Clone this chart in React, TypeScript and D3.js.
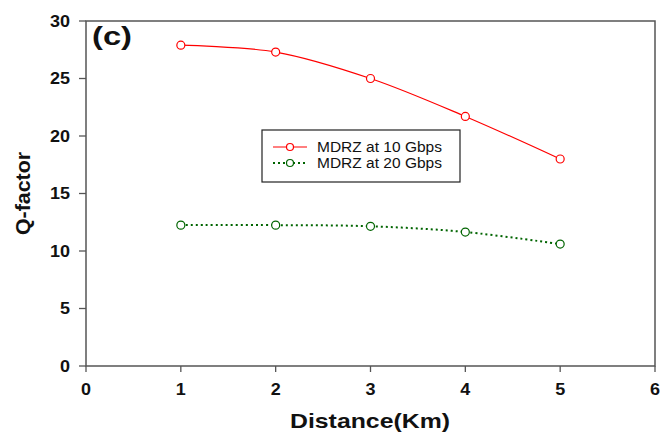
import React from "react";
import * as d3 from "d3";

const distances = [1, 2, 3, 4, 5];
const mdrz10 = [27.9, 27.3, 25.0, 21.7, 18.0];
const mdrz20 = [12.25, 12.25, 12.15, 11.65, 10.6];
const xTicks = [0, 1, 2, 3, 4, 5, 6];
const yTicks = [0, 5, 10, 15, 20, 25, 30];
const seriesNames = ["MDRZ at 10 Gbps", "MDRZ at 20 Gbps"];

export default function App() {
  const W = 665, H = 435;
  const left = 86, right = 655, top = 21, bottom = 366;
  const x = d3.scaleLinear().domain([0, 6]).range([left, right]);
  const y = d3.scaleLinear().domain([0, 30]).range([bottom, top]);
  const line = d3
    .line<[number, number]>()
    .x((d) => x(d[0]))
    .y((d) => y(d[1]))
    .curve(d3.curveCatmullRom.alpha(0.5));
  const s1 = distances.map((d, i) => [d, mdrz10[i]] as [number, number]);
  const s2 = distances.map((d, i) => [d, mdrz20[i]] as [number, number]);
  const axisColor = "#555";
  const red = "#ff0000";
  const green = "#006400";
  const font = "Liberation Sans, Arial, sans-serif";
  return (
    <svg
      width={W}
      height={H}
      style={{ position: "absolute", left: 0, top: 0, background: "#fff" }}
      fontFamily={font}
    >
      <rect x={0} y={0} width={W} height={H} fill="#fff" />
      <rect x={left} y={top} width={right - left} height={bottom - top} fill="none" stroke={axisColor} strokeWidth={1.5} />
      {yTicks.map((t) => (
        <g key={"y" + t}>
          <line x1={left - 7} x2={left} y1={y(t)} y2={y(t)} stroke={axisColor} strokeWidth={1.3} />
          <text
            x={70}
            y={y(t)}
            dy="0.35em"
            textAnchor="end"
            fontSize={16}
            fontWeight="bold"
            fill="#111"
            textLength={t >= 10 ? 20 : 10}
            lengthAdjust="spacingAndGlyphs"
          >
            {t}
          </text>
        </g>
      ))}
      {xTicks.map((t) => (
        <g key={"x" + t}>
          <line x1={x(t)} x2={x(t)} y1={bottom} y2={bottom + 6} stroke={axisColor} strokeWidth={1.3} />
          <text x={x(t)} y={389} dy="0.35em" textAnchor="middle" fontSize={16} fontWeight="bold" fill="#111" textLength={10} lengthAdjust="spacingAndGlyphs">
            {t}
          </text>
        </g>
      ))}
      <text
        x={290}
        y={421}
        dy="0.35em"
        fontSize={21}
        fontWeight="bold"
        fill="#111"
        textLength={160}
        lengthAdjust="spacingAndGlyphs"
      >
        Distance(Km)
      </text>
      <text
        transform={`translate(23,235) rotate(-90)`}
        dy="0.35em"
        fontSize={21}
        fontWeight="bold"
        fill="#111"
        textLength={83}
        lengthAdjust="spacingAndGlyphs"
      >
        Q-factor
      </text>
      <text x={92} y={36} dy="0.35em" fontSize={26} fontWeight="bold" fill="#111" textLength={40} lengthAdjust="spacingAndGlyphs">
        (c)
      </text>
      <path d={line(s1) || ""} fill="none" stroke={red} strokeWidth={1.2} />
      <path d={line(s2) || ""} fill="none" stroke={green} strokeWidth={2} strokeDasharray="2,3" />
      {s1.map((d, i) => (
        <circle key={"r" + i} cx={x(d[0])} cy={y(d[1])} r={4} fill="#fff" stroke={red} strokeWidth={1.2} />
      ))}
      {s2.map((d, i) => (
        <circle key={"g" + i} cx={x(d[0])} cy={y(d[1])} r={4} fill="#fff" stroke={green} strokeWidth={1.2} />
      ))}
      <rect x={262} y={130} width={198} height={52} fill="#fff" stroke="#222" strokeWidth={1.2} />
      <line x1={273} x2={307} y1={147} y2={147} stroke={red} strokeWidth={1.2} />
      <circle cx={290} cy={147} r={3.5} fill="#fff" stroke={red} strokeWidth={1.2} />
      <text x={317} y={147} dy="0.35em" fontSize={14} fill="#111" textLength={125} lengthAdjust="spacingAndGlyphs">
        {seriesNames[0]}
      </text>
      <line x1={273} x2={307} y1={163} y2={163} stroke={green} strokeWidth={2} strokeDasharray="2,3" />
      <circle cx={290} cy={163} r={3.5} fill="#fff" stroke={green} strokeWidth={1.2} />
      <text x={317} y={163} dy="0.35em" fontSize={14} fill="#111" textLength={125} lengthAdjust="spacingAndGlyphs">
        {seriesNames[1]}
      </text>
    </svg>
  );
}
